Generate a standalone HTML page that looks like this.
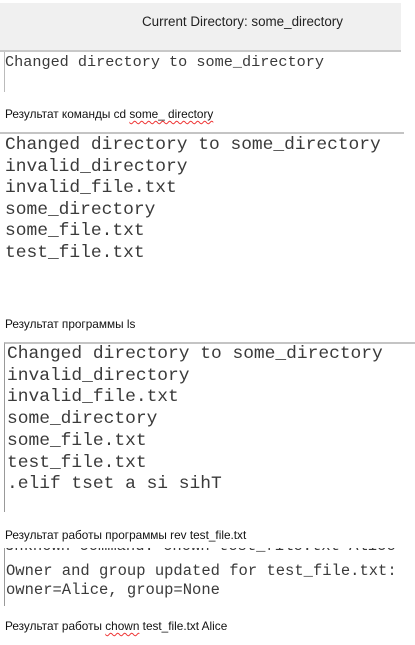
<!DOCTYPE html>
<html><head><meta charset="utf-8"><style>
body{margin:0;width:415px;height:645px;background:#fff;position:relative;overflow:hidden;font-family:"Liberation Sans",sans-serif}
.a{position:absolute}
.mono{font-family:"Liberation Mono",monospace;color:#3a3a3a;white-space:pre}
.cap{font-size:11.8px;color:#111;white-space:nowrap}
.sq{text-decoration:underline wavy #e33;text-decoration-thickness:1px;text-underline-offset:2px}
</style></head><body>
<div class="a" style="left:0;top:3px;width:401px;height:47px;background:#f0f0f0;border-bottom:2px solid #c8c8c8"></div>
<div class="a" style="left:142px;top:14px;font-size:13.4px;color:#222">Current Directory: some_directory</div>
<div class="a" style="left:4px;top:52px;width:1px;height:40px;background:#bbb"></div>
<div class="a mono" style="left:5px;top:53px;font-size:15.2px;line-height:18px">Changed directory to some_directory</div>
<div class="a cap" style="left:5px;top:107px">Результат команды cd <span class="sq">some_ directory</span></div>
<div class="a" style="left:0;top:132px;width:404px;height:2px;background:#c4c4c4"></div>
<div class="a mono" style="left:5px;top:135px;font-size:17.9px;line-height:21.5px">Changed directory to some_directory
invalid_directory
invalid_file.txt
some_directory
some_file.txt
test_file.txt</div>
<div class="a cap" style="left:5px;top:317px">Результат программы ls</div>
<div class="a" style="left:4px;top:342px;width:411px;height:168px;border-top:2px solid #c4c4c4;border-left:1px solid #999"></div>
<div class="a mono" style="left:7px;top:344px;font-size:17.9px;line-height:21.7px">Changed directory to some_directory
invalid_directory
invalid_file.txt
some_directory
some_file.txt
test_file.txt
.elif tset a si sihT</div>
<div class="a cap" style="left:5px;top:528px">Результат работы программы rev test_file.txt</div>
<div class="a" style="left:4px;top:548px;width:1px;height:58px;background:#999"></div>
<div class="a" style="left:5px;top:548px;width:400px;height:6px;overflow:hidden"><div class="mono" style="margin-top:-11px;font-size:15.5px;line-height:19px">Unknown command: chown test_file.txt Alice</div></div>
<div class="a mono" style="left:6px;top:562px;font-size:15.5px;line-height:19px">Owner and group updated for test_file.txt:
owner=Alice, group=None</div>
<div class="a cap" style="left:5px;top:619px">Результат работы <span class="sq">chown</span> test_file.txt Alice</div>
</body></html>
